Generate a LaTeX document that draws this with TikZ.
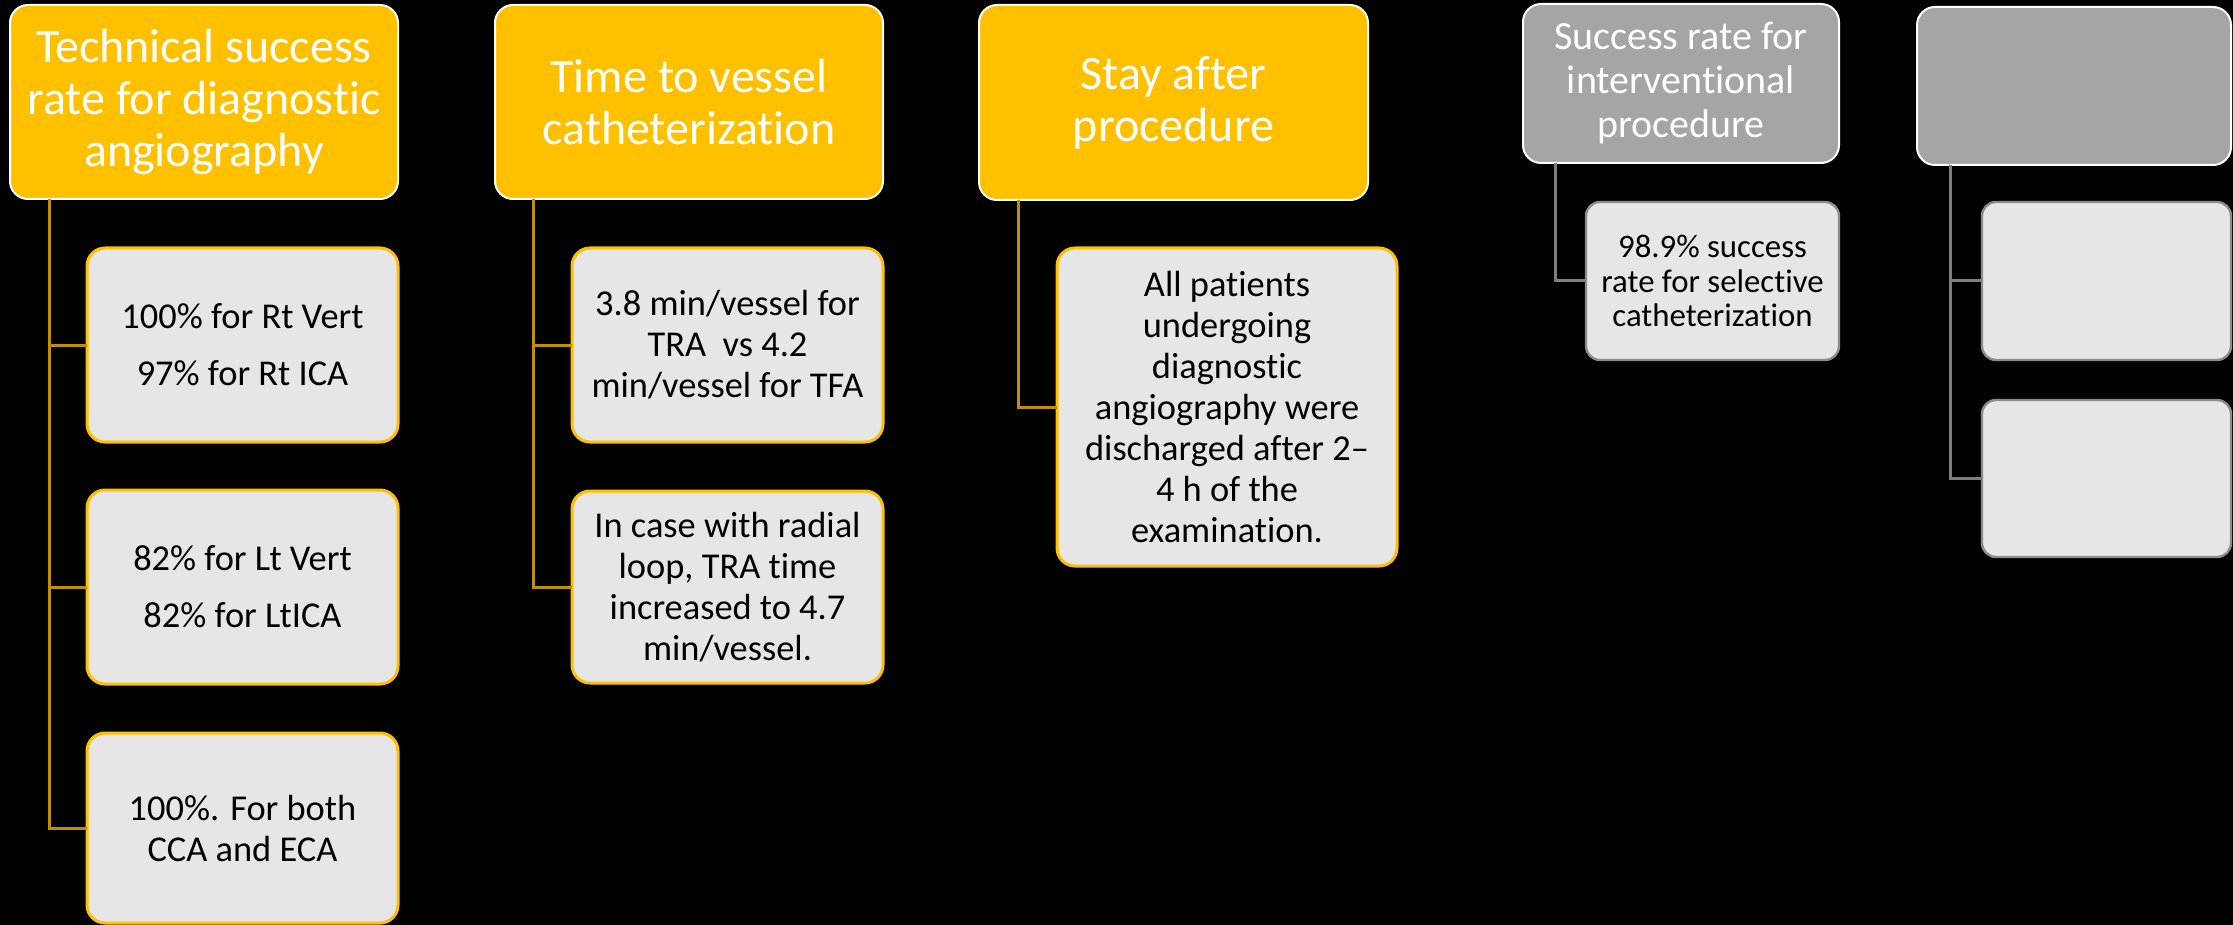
\documentclass[tikz,border=0pt]{standalone}
\usepackage{fontspec}
\setmainfont{Carlito}[Ligatures=NoCommon]
\definecolor{gold}{HTML}{FFC000}
\definecolor{darkgold}{HTML}{BF9000}
\definecolor{lgrey}{HTML}{E6E6E6}
\definecolor{mgrey}{HTML}{A5A5A5}
\definecolor{cgrey}{HTML}{7F7F7F}
\tikzset{
  box/.style={rectangle, rounded corners=9pt, align=center, inner sep=0pt, outer sep=0pt},
  hdr/.style={box, fill=gold, draw=white, line width=1pt, text=white, font=\fontsize{24}{26}\selectfont},
  kid/.style={box, fill=lgrey, draw=gold, line width=1.5pt, text=black, font=\fontsize{18.2}{20.5}\selectfont},
  ghdr/.style={box, fill=mgrey, draw=white, line width=1pt, text=white, font=\fontsize{20}{22}\selectfont},
  gkid/.style={box, fill=lgrey, draw=mgrey!85!black, line width=1.2pt, text=black, rounded corners=7pt, font=\fontsize{16.4}{17.3}\selectfont},
  conn/.style={draw=darkgold, line width=1.5pt},
  gconn/.style={draw=cgrey, line width=1.5pt}
}
\begin{document}
\begin{tikzpicture}[x=0.5pt,y=-0.5pt]
\fill[black] (0,0) rectangle (2233,925);
\useasboundingbox (0,0) rectangle (2233,925);

% column 1
\node[hdr, minimum width=194pt, minimum height=97pt] (H1) at (204,102) {Technical success\\rate for diagnostic\\angiography};
\node[kid, minimum width=155.5pt, minimum height=97pt] (C11) at (242.5,345) {100\% for Rt Vert\\[8pt]97\% for Rt ICA};
\node[kid, minimum width=155.5pt, minimum height=97pt] (C12) at (242.5,587) {82\% for Lt Vert\\[8pt]82\% for LtICA};
\node[kid, minimum width=155.5pt, minimum height=95pt] (C13) at (242.5,828) {100\%. For both\\CCA and ECA};
\draw[conn] ([xshift=19.5pt]H1.south west) |- (C11.west);
\draw[conn] ([xshift=19.5pt]H1.south west) |- (C12.west);
\draw[conn] ([xshift=19.5pt]H1.south west) |- (C13.west);

% column 2
\node[hdr, minimum width=194pt, minimum height=97pt] (H2) at (689,102) {Time to vessel\\catheterization};
\node[kid, minimum width=155.5pt, minimum height=97pt] (C21) at (727.5,345) {3.8 min/vessel for\\TRA\ \ vs 4.2\\min/vessel for TFA};
\node[kid, minimum width=155.5pt, minimum height=96pt] (C22) at (727.5,587) {In case with radial\\loop, TRA time\\increased to 4.7\\min/vessel.};
\draw[conn] ([xshift=19pt]H2.south west) |- (C21.west);
\draw[conn] ([xshift=19pt]H2.south west) |- (C22.west);

% column 3
\node[hdr, minimum width=194.5pt, minimum height=97.5pt] (H3) at (1173.5,102.5) {Stay after\\procedure};
\node[kid, minimum width=170pt, minimum height=159pt] (C31) at (1227,407) {All patients\\undergoing\\diagnostic\\angiography were\\discharged after 2--\\4 h of the\\examination.};
\draw[conn] ([xshift=19.5pt]H3.south west) |- (C31.west);

% column 4
\node[ghdr, minimum width=158pt, minimum height=79.5pt] (H4) at (1681,83.5) {Success rate for\\interventional\\procedure};
\node[gkid, minimum width=126.5pt, minimum height=79pt] (C41) at (1712.5,281) {98.9\% success\\rate for selective\\catheterization};
\draw[gconn] ([xshift=16pt]H4.south west) |- (C41.west);

% column 5
\node[ghdr, minimum width=157pt, minimum height=79pt] (H5) at (2074,86) {};
\node[gkid, minimum width=124.5pt, minimum height=79pt] (C51) at (2106.5,281) {};
\node[gkid, minimum width=124.5pt, minimum height=78.5pt] (C52) at (2106.5,478.5) {};
\draw[gconn] ([xshift=16.5pt]H5.south west) |- (C51.west);
\draw[gconn] ([xshift=16.5pt]H5.south west) |- (C52.west);
\end{tikzpicture}
\end{document}
